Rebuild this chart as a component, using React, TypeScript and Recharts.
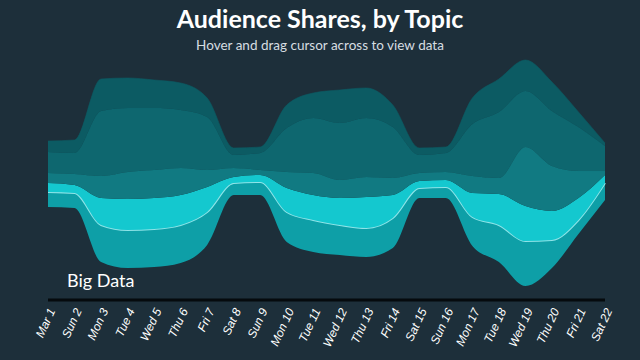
import React from 'react';
import { AreaChart, Area, XAxis, YAxis } from 'recharts';

const days = [
  'Mar 1', 'Sun 2', 'Mon 3', 'Tue 4', 'Wed 5', 'Thu 6', 'Fri 7', 'Sat 8', 'Sun 9', 'Mon 10', 'Tue 11',
  'Wed 12', 'Thu 13', 'Fri 14', 'Sat 15', 'Sun 16', 'Mon 17', 'Tue 18', 'Wed 19', 'Thu 20', 'Fri 21', 'Sat 22',
];

// lower edge of the stream (wiggle offset), then the topics from bottom to top
const offset = [93, 92, 38, 32, 33, 37, 55, 105, 105, 58, 48, 45, 43, 52, 102, 102, 54, 38, 14, 32, 66, 100];
const bigData = [15, 15, 37, 38, 38, 38, 33, 12, 13, 30, 32, 30, 29, 30, 10, 11, 29, 37, 45, 28, 14, 17];
const cloud = [9, 8, 27, 31, 31, 30, 25, 6, 7, 24, 25, 27, 31, 23, 7, 7, 24, 31, 35, 29, 22, 8];
const security = [10, 11, 22, 27, 28, 27, 17, 9, 5, 16, 22, 18, 20, 17, 8, 8, 17, 16, 59, 45, 27, 4];
const mobile = [21, 21, 65, 64, 62, 58, 53, 13, 17, 44, 55, 57, 59, 51, 18, 19, 52, 66, 56, 55, 44, 25];
const social = [11, 13, 32, 30, 28, 27, 19, 7, 6, 23, 25, 33, 30, 22, 7, 6, 26, 33, 31, 29, 15, 3];

const data = days.map((day, i) => ({
  day,
  offset: offset[i],
  bigData: bigData[i],
  cloud: cloud[i],
  security: security[i],
  mobile: mobile[i],
  social: social[i],
}));

const DayTick = (props: any) => {
  const { x, y, payload } = props;
  const tx = x + 4;
  const ty = y + 7;
  return (
    <text
      x={tx}
      y={ty}
      transform={`rotate(-65 ${tx} ${ty})`}
      textAnchor="end"
      dominantBaseline="central"
      fill="#ffffff"
      fontSize={12}
      fontStyle="italic"
      fontFamily="'Liberation Sans', Arial, sans-serif"
    >
      {payload.value}
    </text>
  );
};

const App: React.FC = () => {
  return (
    <div
      style={{
        position: 'fixed',
        top: 0,
        left: 0,
        width: 640,
        height: 360,
        background: '#1d2f3a',
        fontFamily: 'Lato, sans-serif',
        overflow: 'hidden',
      }}
    >
      <div style={{ position: 'absolute', top: 3, width: 640, textAlign: 'center', color: '#ffffff', fontSize: 25, fontWeight: 700 }}>
        Audience Shares, by Topic
      </div>
      <div style={{ position: 'absolute', top: 37, width: 640, textAlign: 'center', color: '#d6dde1', fontSize: 13.5 }}>
        Hover and drag cursor across to view data
      </div>
      <AreaChart width={640} height={360} data={data} margin={{ top: 50, right: 35, bottom: 0, left: 48 }}>
        <XAxis
          dataKey="day"
          interval={0}
          height={60}
          tickLine={false}
          tickSize={0}
          axisLine={{ stroke: '#050a0d', strokeWidth: 3 }}
          tick={<DayTick />}
        />
        <YAxis hide domain={[0, 250]} />
        <Area type="monotone" dataKey="offset" stackId="s" fill="none" stroke="none" isAnimationActive={false} />
        <Area type="monotone" dataKey="bigData" stackId="s" fill="#0e9fa7" fillOpacity={1} stroke="#8fe4e8" strokeWidth={2} isAnimationActive={false} />
        <Area type="monotone" dataKey="cloud" stackId="s" fill="#14c8cf" fillOpacity={1} stroke="none" isAnimationActive={false} />
        <Area type="monotone" dataKey="security" stackId="s" fill="#117a82" fillOpacity={1} stroke="#117a82" strokeWidth={0.6} isAnimationActive={false} />
        <Area type="monotone" dataKey="mobile" stackId="s" fill="#0e676f" fillOpacity={1} stroke="#0e676f" strokeWidth={0.6} isAnimationActive={false} />
        <Area type="monotone" dataKey="social" stackId="s" fill="#0c5b63" fillOpacity={1} stroke="#0c5b63" strokeWidth={0.6} isAnimationActive={false} />
      </AreaChart>
      <div style={{ position: 'absolute', left: 67, top: 271, color: '#ffffff', fontSize: 18, lineHeight: 1 }}>Big Data</div>
    </div>
  );
};

export default App;
